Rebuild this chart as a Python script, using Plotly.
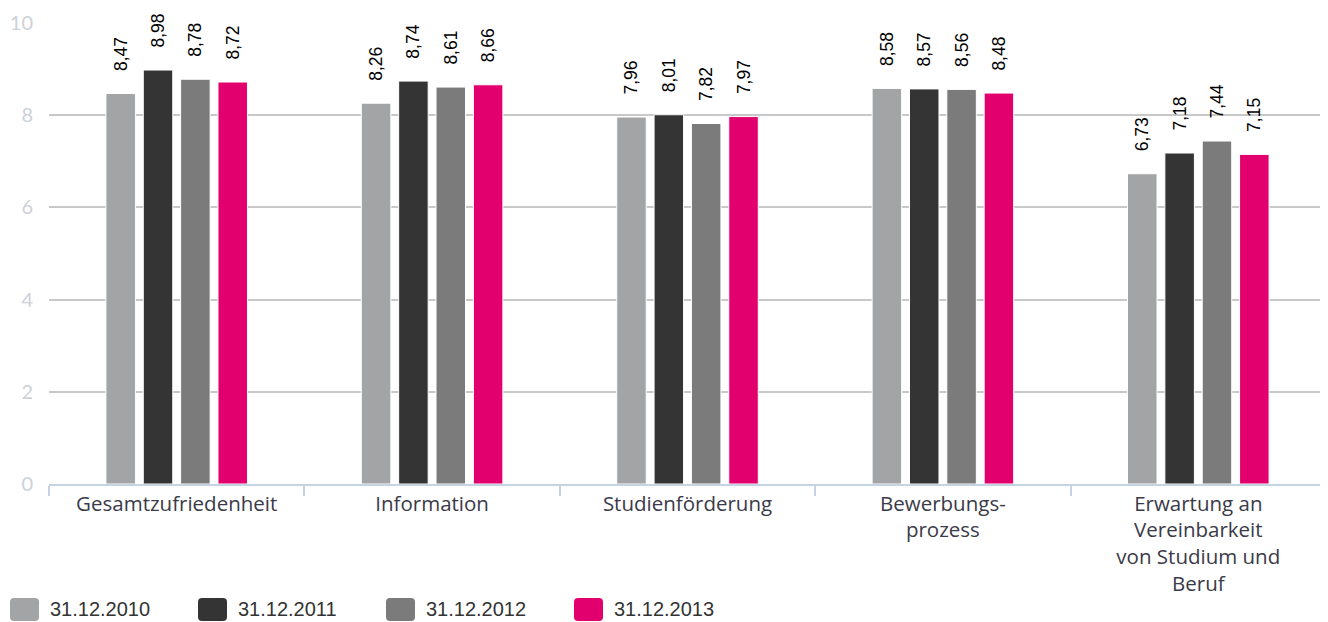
import plotly.graph_objects as go

categories = ["Gesamtzufriedenheit", "Information", "Studienförderung",
              "Bewerbungs-<br>prozess",
              "Erwartung an<br>Vereinbarkeit<br>von Studium und<br>Beruf"]
series_names = ["31.12.2010", "31.12.2011", "31.12.2012", "31.12.2013"]
values_2010 = [8.47, 8.26, 7.96, 8.58, 6.73]
values_2011 = [8.98, 8.74, 8.01, 8.57, 7.18]
values_2012 = [8.78, 8.61, 7.82, 8.56, 7.44]
values_2013 = [8.72, 8.66, 7.97, 8.48, 7.15]
colors = ["#a3a4a6", "#343434", "#7b7b7b", "#e2006f"]
y_ticks = [0, 2, 4, 6, 8, 10]

all_values = [values_2010, values_2011, values_2012, values_2013]

# page has an 8px body margin; figure occupies the rest
OFF = 8
W, H = 1328 - OFF, 622 - OFF
ML, MR, MT, MB = 49 - OFF, 2, 23 - OFF, 138
PW, PH = W - ML - MR, H - MT - MB

fig = go.Figure()
for name, vals, col in zip(series_names, all_values, colors):
    fig.add_trace(go.Bar(
        x=categories, y=vals, name=name,
        marker=dict(color=col, line=dict(color="white", width=1)),
        texttemplate="\u00a0\u00a0\u00a0\u00a0%{y:.2f}", textposition="outside", textangle=-90,
        textfont=dict(family="Arial", size=17.5, color="#000000"),
        constraintext="none", cliponaxis=False, showlegend=False,
    ))

# custom legend (rounded squares + labels), positions in page pixels
def px2x(px):
    return (px - OFF - ML) / PW

def py2y(py):
    return (H - MB - (py - OFF)) / PH

shapes = []
annotations = []
step = 188
r = 4
for i, (name, col) in enumerate(zip(series_names, colors)):
    x0p, x1p = 10 + step * i, 39 + step * i
    y0p, y1p = 598, 621
    x0, x1 = px2x(x0p), px2x(x1p)
    yt, yb = py2y(y0p), py2y(y1p)
    rx, ry = r / PW, r / PH
    path = (f"M {x0+rx},{yt} L {x1-rx},{yt} Q {x1},{yt} {x1},{yt-ry} "
            f"L {x1},{yb+ry} Q {x1},{yb} {x1-rx},{yb} L {x0+rx},{yb} "
            f"Q {x0},{yb} {x0},{yb+ry} L {x0},{yt-ry} Q {x0},{yt} {x0+rx},{yt} Z")
    shapes.append(dict(type="path", path=path, xref="paper", yref="paper",
                       fillcolor=col, line=dict(width=0)))
    annotations.append(dict(text=name, x=px2x(48 + step * i), y=py2y(609),
                            xref="paper", yref="paper", xanchor="left", yanchor="middle",
                            showarrow=False,
                            font=dict(family="Arial", size=20, color="#333333")))

fig.update_layout(
    width=W, height=H,
    margin=dict(l=ML, r=MR, t=MT, b=MB),
    plot_bgcolor="white", paper_bgcolor="white",
    barmode="group", bargap=0.415, bargroupgap=0.21,
    separators=",.",
    showlegend=False,
    shapes=shapes, annotations=annotations,
    xaxis=dict(
        showline=True, linecolor="#c5d3e2", linewidth=2,
        ticks="outside", tickson="boundaries", ticklen=10, tickcolor="#c5d3e2", tickwidth=2,
        showgrid=False,
        tickfont=dict(family="Open Sans", size=20.5, color="#3a3a48"),
    ),
    yaxis=dict(
        range=[0, 10], tickvals=y_ticks, showgrid=True, gridcolor="#c8c8c8", gridwidth=2,
        zeroline=False, showline=False, ticks="",
        ticklabelstandoff=15,
        tickfont=dict(family="Lato", size=20, color="#cdd1d9"),
    ),
)

fig.write_html("out.html")
